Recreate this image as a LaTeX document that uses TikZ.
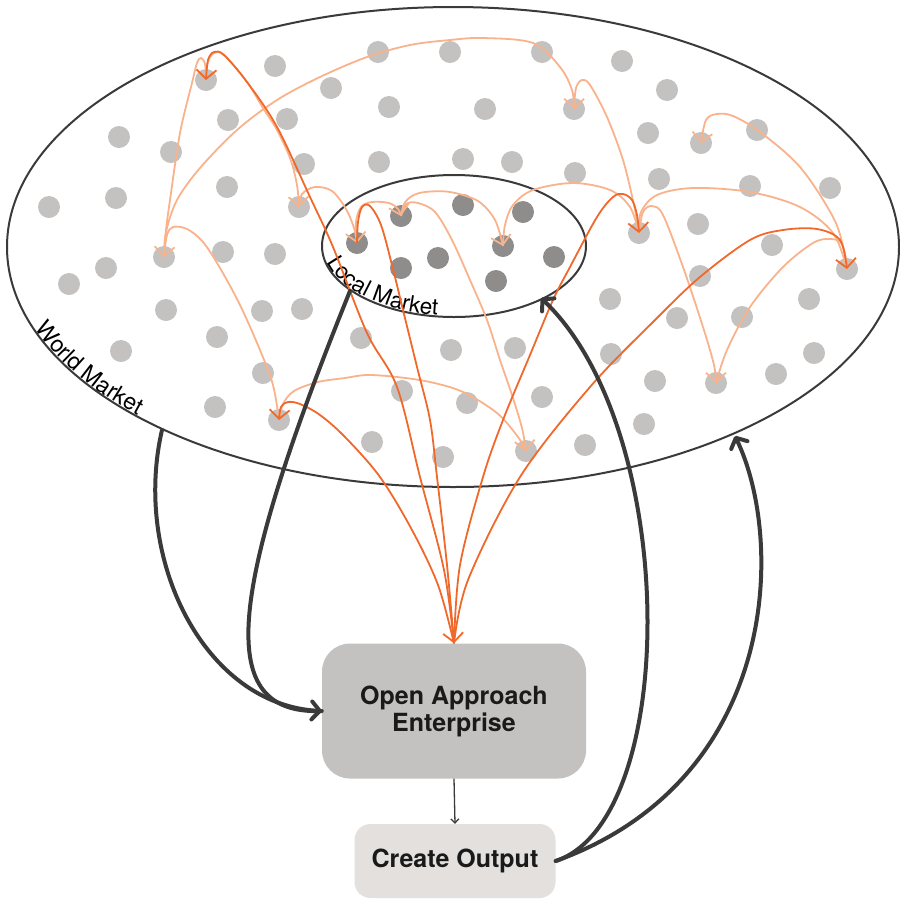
\documentclass[tikz,border=0pt]{standalone}
\usepackage{fontspec}
\setmainfont{TeX Gyre Heros}
\usetikzlibrary{arrows.meta,decorations.text}
\definecolor{gdotc}{HTML}{C4C2C0}
\definecolor{ddotc}{HTML}{8E8D8C}
\definecolor{lorange}{HTML}{F9B38C}
\definecolor{dorange}{HTML}{F1682B}
\definecolor{ink}{HTML}{3A3A3A}
\definecolor{entfill}{HTML}{C3C2C0}
\definecolor{outfill}{HTML}{E3E0DD}
\definecolor{boxtext}{HTML}{1A1A1A}
\begin{document}
\begin{tikzpicture}[x=1pt,y=-1pt,
  gd/.style={circle,fill=gdotc,minimum size=22pt,inner sep=0pt},
  dd/.style={circle,fill=ddotc,minimum size=22pt,inner sep=0pt},
  lightline/.style={draw=lorange,line width=1.8pt},
  darkline/.style={draw=dorange,line width=1.8pt},
  otip/.style={-{Straight Barb[length=9pt,width=20pt]}},
  blackline/.style={draw=ink,line width=4pt,line cap=round},
  btip/.style={-{Straight Barb[length=8pt,width=18pt,round]}},
  rim/.style={draw=ink,line width=2pt},
  sm/.style={smooth,tension=0.55},
  entbox/.style={rounded corners=28pt,fill=entfill,minimum width=264pt,minimum height=135pt,align=center,text=boxtext,font=\bfseries\fontsize{25}{27}\selectfont},
  outbox/.style={rounded corners=16pt,fill=outfill,minimum width=201pt,minimum height=74pt,align=center,text=boxtext,font=\bfseries\fontsize{25}{27}\selectfont}
]
\useasboundingbox (0,0) rectangle (900,898);

% world market dots
\foreach \n/\px/\py in {
 g1/206/80, g2/275/66, g3/378/52, g4/450/52, g5/542/52, g6/622/61, g7/331/88, g8/389/107,
 g9/485/109, g10/574/109, g11/667/90, g12/228/120, g13/287/119, g14/648/133, g15/701/143,
 g16/757/130, g17/119/137, g18/171/152, g19/304/164, g20/379/162, g21/463/159, g22/512/162,
 g23/575/173, g24/659/179, g25/750/186, g26/830/188, g27/227/187, g28/116/198, g29/49/207,
 g30/299/207, g31/639/233, g32/698/224, g33/772/245, g34/847/269, g35/164/257, g36/223/252,
 g37/275/254, g38/106/268, g39/69/284, g40/700/276, g41/610/299, g42/809/299, g43/166/310,
 g44/262/311, g45/302/309, g46/217/337, g47/121/351, g48/263/373, g49/215/407, g50/279/420,
 g51/361/338, g52/451/350, g53/515/348, g54/611/354, g55/655/381, g56/402/391, g57/467/403,
 g58/542/397, g59/644/424, g60/372/442, g61/443/457, g62/526/451, g63/585/445, g64/677/318,
 g65/742/317, g66/814/353, g67/776/374, g68/716/383}
  \node[gd] (\n) at (\px,\py) {};
% local market dots
\foreach \n/\px/\py in {d1/357/243, d2/401/216, d3/463/205, d4/523/212, d5/503/246,
 d6/438/258, d7/401/268, d8/496/281, d9/554/257}
  \node[dd] (\n) at (\px,\py) {};

% markets
\draw[rim] (453,247) ellipse [x radius=446, y radius=240];
\draw[rim] (454,246) ellipse [x radius=132, y radius=71];
\begin{scope}[y=1pt]
\path[decorate,decoration={text along path,text align=left,raise=1.5pt,
  text={|\fontsize{23}{23}\selectfont|World Market}}]
  (33.9,-329.1) arc[start angle=200,end angle=242,x radius=446,y radius=240];
\path[decorate,decoration={text along path,text align=left,raise=1.5pt,
  text={|\fontsize{22.5}{22.5}\selectfont|Local Market}}]
  (325.92,-263.18) arc[start angle=194,end angle=285,x radius=132,y radius=71];
\end{scope}

% boxes
\node[entbox] (ent) at (454,711) {Open Approach\\Enterprise};
\node[outbox] (co) at (455,861) {Create Output};
\coordinate (wm1) at (162,430);
\coordinate (wm2) at (735,436);
\coordinate (lm1) at (350,291);
\coordinate (lm2) at (541,298);

% light orange links
\draw[lightline,otip] plot[sm] coordinates {(g1.center) (205,64) (201,58) (197,63) (192,83) (180,133) (170,200) (166,230) (g35.center)};
\draw[lightline,otip] plot[sm] coordinates {(g35.center) (166,232) (177,200) (200,168) (237,130) (277,100) (320,77) (367,57) (410,45) (450,40) (483,38) (533,43) (560,67) (572,90) (g10.center)};
\draw[lightline] plot[sm] coordinates {(g35.center) (167,235) (173,227) (187,229) (203,242) (220,268) (240,305) (260,350) (273,385) (g50.center)};
\draw[lightline,otip] plot[sm] coordinates {(g1.center) (208,62) (214,53) (224,55) (247,82) (263,108) (277,130) (290,158) (297,185) (g30.center)};
\draw[lightline,otip] plot[sm] coordinates {(g30.center) (302,194) (315,187) (332,191) (346,209) (354,228) (d1.center)};
\draw[lightline,otip] plot[sm] coordinates {(d1.center) (356,222) (361,207) (372,202) (389,203) (398,209) (d2.center)};
\draw[lightline,otip] plot[sm] coordinates {(d2.center) (404,204) (412,196) (425,192) (450,192) (478,201) (495,220) (d5.center)};
\draw[lightline,otip] plot[sm] coordinates {(d2.center) (406,204) (418,203) (435,212) (452,240) (470,280) (487,320) (500,360) (512,395) (522,428) (g62.center)};
\draw[lightline] plot[sm] coordinates {(g50.center) (283,404) (294,391) (318,382) (345,378) (367,375) (397,377) (430,382) (463,392) (497,413) (518,437) (g62.center)};
\draw[lightline] plot[sm] coordinates {(d5.center) (505,225) (513,205) (533,190) (573,183) (610,190) (630,207) (g31.center)};
\draw[lightline] plot[sm] coordinates {(g10.center) (576,88) (582,80) (590,85) (607,117) (623,160) (634,205) (g31.center)};
\draw[lightline] plot[sm] coordinates {(g31.center) (641,212) (657,195) (693,188) (750,192) (800,207) (833,233) (g34.center)};
\draw[lightline,otip] plot[sm] coordinates {(g31.center) (643,212) (652,206) (663,215) (683,267) (703,327) (714,365) (g68.center)};
\draw[lightline] plot[sm] coordinates {(g34.center) (842,244) (830,239) (813,243) (783,267) (750,307) (727,350) (g68.center)};
\draw[lightline,otip] plot[sm] coordinates {(g34.center) (844,250) (833,217) (800,167) (760,132) (733,116) (717,114) (706,120) (g15.center)};

% dark orange links
\draw[darkline,otip] plot[sm] coordinates {(ent.north) (444,570) (420,477) (397,387) (367,333) (333,247) (310,197) (277,127) (247,82) (224,55) (214,52) (208,60) (g1.center)};
\draw[darkline,otip] plot[sm] coordinates {(d1.center) (358,222) (362,207) (370,206) (381,225) (392,265) (403,310) (417,367) (430,420) (437,477) (447,565) (ent.north)};
\draw[darkline,otip] plot[sm] coordinates {(ent.north) (438,585) (412,530) (380,477) (345,437) (320,415) (300,404) (288,402) (281,407) (g50.center)};
\draw[darkline,otip] plot[sm] coordinates {(ent.north) (460,565) (483,477) (503,420) (530,355) (553,300) (570,267) (597,217) (613,197) (623,194) (632,200) (637,215) (g31.center)};
\draw[darkline,otip] plot[sm] coordinates {(ent.north) (468,580) (520,477) (590,387) (655,320) (700,277) (750,240) (783,230) (817,229) (840,240) (g34.center)};

% black flows
\draw[blackline,btip] (wm1) .. controls (132,560) and (205,705) .. (ent.west);
\draw[blackline] (lm1) .. controls (225,600) and (215,715) .. (ent.west);
\draw[blackline,btip] (co.east) .. controls (680,820) and (680,430) .. (lm2);
\draw[blackline,btip] (co.east) .. controls (780,780) and (785,540) .. (wm2);
\draw[draw=ink,line width=1.3pt,-{Straight Barb[length=4pt,width=8pt]}] (ent.south) -- (co.north);
\end{tikzpicture}
\end{document}
